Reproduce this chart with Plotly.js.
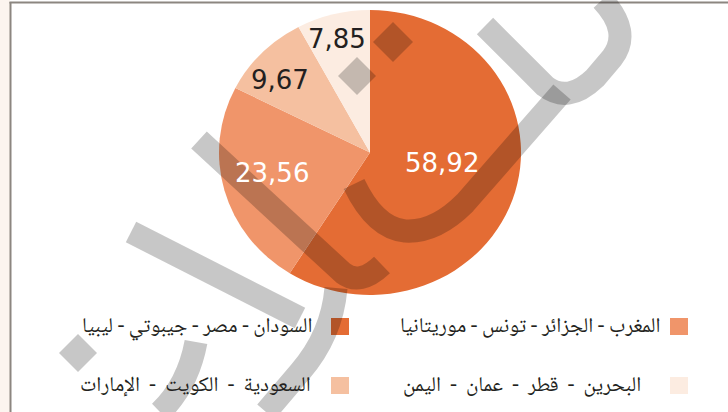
<!DOCTYPE html>
<html>
<head>
<meta charset="utf-8">
<script src="https://cdn.plot.ly/plotly-3.0.1.min.js"></script>
<style>
html,body{margin:0;padding:0;background:#fff;}
#chart{width:728px;height:412px;}
</style>
</head>
<body>
<div id="chart"></div>
<script>
// ---- data ----
const labels = [
  'السودان - مصر - جيبوتي - ليبيا',
  'المغرب - الجزائر - تونس - موريتانيا',
  'السعودية - الكويت - الإمارات',
  'البحرين - قطر - عمان - اليمن'
];
const values = [58.92, 23.56, 9.67, 7.85];
const colors = ['#E46C34', '#F0956A', '#F5C0A0', '#FCECE1'];
const valueTextColors = ['#FFFFFF', '#FFFFFF', '#231F20', '#231F20'];

// ---- layout helpers (pixels -> paper) ----
const W = 728, H = 412;
const X = px => px / W;
const Y = py => 1 - py / H;
function path(cmds) {
  let out = '', xy = 0;
  for (const c of cmds) {
    if (typeof c === 'string') { out += (out ? ' ' : '') + c; xy = 0; }
    else { out += (xy % 2 === 0 ? ' ' + X(c).toFixed(5) : ',' + Y(c).toFixed(5)); xy++; }
  }
  return out;
}

const cx = 370, cy = 152.5, R = 151, ry = 142.5;

const valuePos = [[442, 163], [272, 173], [280, 80], [337, 39]];
const legendPos = [
  {tx: 315, ty: 327, mx: 331, my: 318, wide: false},
  {tx: 662, ty: 327, mx: 670, my: 318, wide: false},
  {tx: 313, ty: 386, mx: 331, my: 377, wide: true},
  {tx: 643, ty: 386, mx: 670, my: 377, wide: true}
];

const fmt = v => v.toFixed(2).replace('.', ',');
const arabicFont = 'Noto Naskh Arabic, Noto Sans Arabic UI, Noto Sans Arabic, Noto Kufi Arabic, Amiri, DejaVu Sans, sans-serif';

const annotations = [];
values.forEach((v, i) => {
  annotations.push({
    xref: 'paper', yref: 'paper', x: X(valuePos[i][0]), y: Y(valuePos[i][1]),
    xanchor: 'center', yanchor: 'middle', showarrow: false,
    text: fmt(v),
    font: {family: 'DejaVu Sans, sans-serif', size: 26, color: valueTextColors[i]}
  });
});
labels.forEach((t, i) => {
  const p = legendPos[i];
  const shown = p.wide ? t.replace(/ - /g, '\u00A0\u00A0-\u00A0\u00A0') : t;
  annotations.push({
    xref: 'paper', yref: 'paper', x: X(p.tx), y: Y(p.ty),
    xanchor: 'right', yanchor: 'middle', showarrow: false,
    text: shown,
    font: {family: arabicFont, size: 21, color: '#231F20'}
  });
});

const shapes = [];
// frame
shapes.push({type: 'rect', xref: 'paper', yref: 'paper', x0: 0, x1: X(10), y0: 0, y1: 1,
  fillcolor: '#FCF4EF', line: {width: 0}, layer: 'below'});
shapes.push({type: 'line', xref: 'paper', yref: 'paper', x0: X(10.5), x1: X(10.5), y0: 0, y1: Y(2),
  line: {color: '#8C8680', width: 2}});
shapes.push({type: 'line', xref: 'paper', yref: 'paper', x0: X(9.5), x1: 1, y0: Y(2.5), y1: Y(2.5),
  line: {color: '#8C8680', width: 2}});
// legend squares
labels.forEach((t, i) => {
  const p = legendPos[i];
  shapes.push({type: 'rect', xref: 'paper', yref: 'paper',
    x0: X(p.mx), x1: X(p.mx + 18), y0: Y(p.my + 17), y1: Y(p.my),
    fillcolor: colors[i], line: {width: 0}});
});
// watermark
const wm = 'rgba(0,0,0,0.22)';
const strokes = [
  ['M', 485, 26, 'L', 545, 86, 'Q', 568, 104, 595, 78, 'L', 612, 58, 'Q', 632, 32, 602, 0],
  ['M', 354, 184, 'Q', 375, 228, 405, 231, 'Q', 435, 233, 465, 203, 'L', 562, 92],
  ['M', 199, 140, 'L', 343, 273, 'Q', 360, 286, 382, 265],
  ['M', 131, 232, 'L', 300, 318],
  ['M', 336, 288, 'Q', 332, 335, 300, 372, 'L', 266, 412],
  ['M', 196, 342, 'Q', 188, 385, 160, 412]
];
strokes.forEach(s => shapes.push({type: 'path', xref: 'paper', yref: 'paper', path: path(s),
  line: {color: wm, width: 23}, layer: 'above'}));
const diamonds = [[393, 42, 20], [357, 76, 19], [78, 353, 19]];
diamonds.forEach(d => shapes.push({type: 'path', xref: 'paper', yref: 'paper',
  path: path(['M', d[0], d[1] - d[2], 'L', d[0] + d[2], d[1], 'L', d[0], d[1] + d[2], 'L', d[0] - d[2], d[1], 'Z']),
  fillcolor: wm, line: {width: 0}, layer: 'above'}));

const data = [{
  type: 'pie',
  labels: labels,
  values: values,
  sort: false,
  direction: 'clockwise',
  rotation: 0,
  marker: {colors: colors, line: {width: 0}},
  textinfo: 'none',
  hoverinfo: 'none',
  showlegend: false,
  domain: {x: [X(cx - R), X(cx + R)], y: [Y(cy + R), Y(cy - R)]}
}];

const layout = {
  width: W, height: H,
  margin: {l: 0, r: 0, t: 0, b: 0},
  paper_bgcolor: '#FFFFFF',
  showlegend: false,
  separators: ', ',
  annotations: annotations,
  shapes: shapes
};

Plotly.newPlot('chart', data, layout, {staticPlot: true}).then(gd => {
  const pl = gd.querySelector('.pielayer');
  if (pl) {
    const s = ry / R;
    pl.setAttribute('transform', 'translate(0,' + (cy * (1 - s)).toFixed(3) + ') scale(1,' + s.toFixed(5) + ')');
  }
});
</script>
</body>
</html>
